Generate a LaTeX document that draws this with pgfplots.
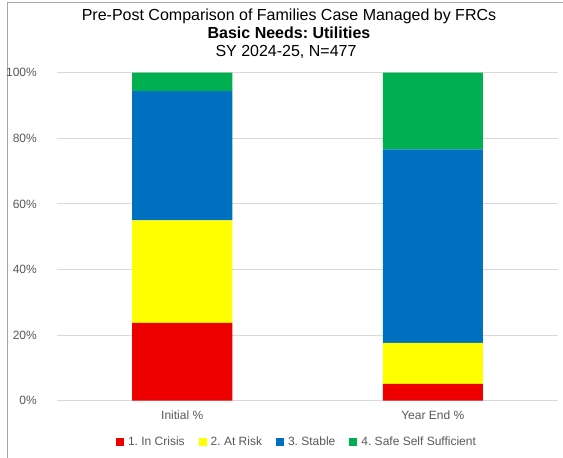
\documentclass[border=0pt]{standalone}
\usepackage{pgfplots}
\pgfplotsset{compat=1.18}
\usepackage{fontspec}
\setmainfont{Liberation Sans}
\frenchspacing
\definecolor{cred}{HTML}{EE0000}
\definecolor{cyellow}{HTML}{FFFF00}
\definecolor{cblue}{HTML}{0070C0}
\definecolor{cgreen}{HTML}{00B050}
\definecolor{txtgray}{HTML}{595959}
\definecolor{gridgray}{HTML}{D9D9D9}
\definecolor{framegray}{HTML}{A6A6A6}
\begin{document}
\begin{tikzpicture}[x=1pt,y=1pt]
\useasboundingbox (0,0) rectangle (563,458);
\fill[white] (0,0) rectangle (563,458);
\draw[framegray, line width=1pt] (7,0) -- (7,455) -- (564,455);
\node[anchor=base, font=\fontsize{16}{18}\selectfont, text=black, inner sep=0pt] at (289,437.3) {Pre-Post Comparison of Families Case Managed by FRCs};
\node[anchor=base, font=\fontsize{16}{18}\selectfont\bfseries, text=black, inner sep=0pt] at (289,419) {Basic Needs: Utilities};
\node[anchor=base, font=\fontsize{16}{18}\selectfont, text=black, inner sep=0pt] at (286,401.3) {SY 2024-25, N=477};
\begin{axis}[
  at={(57pt,57.3pt)}, anchor=south west,
  scale only axis, width=501pt, height=328pt,
  xmin=-0.5, xmax=1.5, ymin=0, ymax=100,
  ybar stacked, bar width=100pt, bar shift=0pt,
  xtick={0,1}, xticklabels={Initial \%, Year End \%},
  ytick={0,20,...,100},
  yticklabel={\pgfmathprintnumber{\tick}\%},
  /pgf/number format/assume math mode=true,
  ymajorgrids, grid style={gridgray, line width=1pt},
  axis line style={draw=none},
  major tick length=0pt, tick style={draw=none},
  tick label style={font=\fontsize{12}{14}\selectfont, text=txtgray},
  yticklabel style={anchor=east, inner sep=0pt, xshift=-20pt},
  xticklabel style={anchor=base, inner sep=0pt, yshift=-18.6pt},
  legend columns=4,
  legend style={at={(0.477,-0.125)}, anchor=center, draw=none, fill=none,
    font=\fontsize{12}{14}\selectfont, text=txtgray,
    nodes={inner sep=0pt},
    /tikz/every odd column/.append style={column sep=4pt},
    /tikz/every even column/.append style={column sep=14pt}},
  legend image code/.code={\fill[#1, draw=none] (0pt,-4pt) rectangle (8pt,4pt);},
]
\addplot[fill=cred, draw=none] coordinates {(0,23.7) (1,5.1)};
\addplot[fill=cyellow, draw=none] coordinates {(0,31.3) (1,12.5)};
\addplot[fill=cblue, draw=none] coordinates {(0,39.4) (1,59.0)};
\addplot[fill=cgreen, draw=none] coordinates {(0,5.6) (1,23.4)};
\legend{1. In Crisis, 2. At Risk, 3. Stable, 4. Safe Self Sufficient}
\end{axis}
\end{tikzpicture}
\end{document}
